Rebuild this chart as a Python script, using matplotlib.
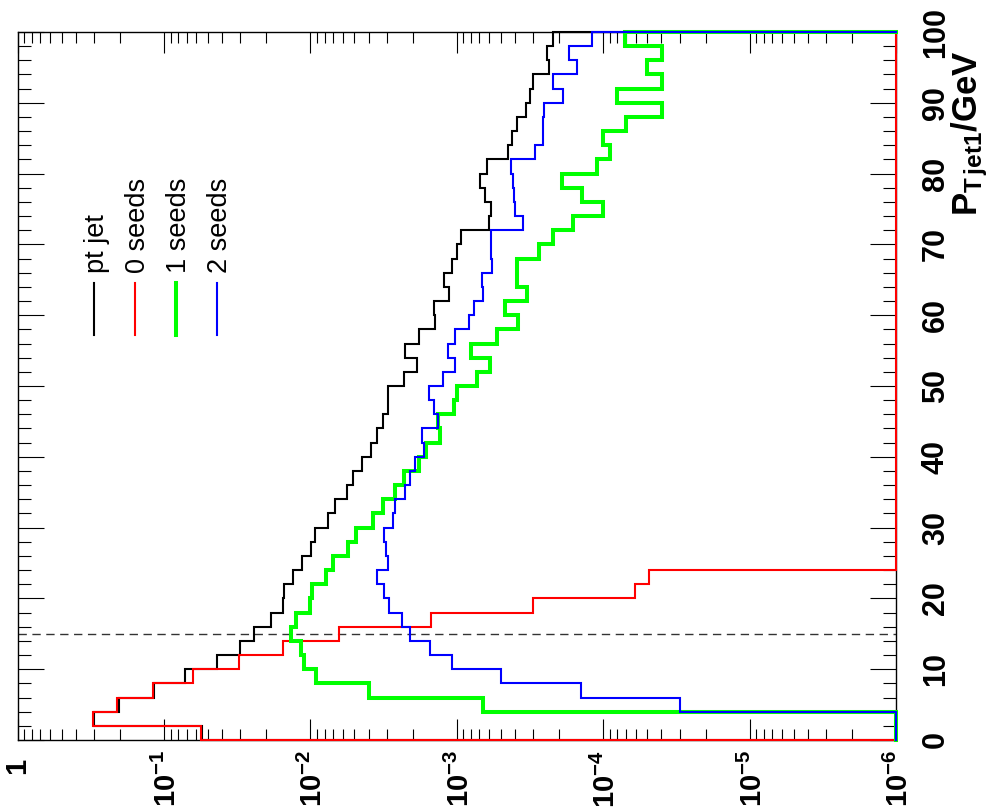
import numpy as np
import matplotlib
matplotlib.use("Agg")
import matplotlib.pyplot as plt
from matplotlib.ticker import LogLocator, MultipleLocator, NullFormatter

plt.rcParams['font.family'] = ['Liberation Sans', 'DejaVu Sans']
plt.rcParams['mathtext.fontset'] = 'custom'
plt.rcParams['mathtext.rm'] = 'Liberation Sans'
plt.rcParams['mathtext.bf'] = 'Liberation Sans:bold'
plt.rcParams['mathtext.it'] = 'Liberation Sans:italic'

# ---- data: normalised entries per 2 GeV bin of the leading-jet pT ----
bin_edges = list(range(0, 102, 2))

pt_jet = [0.0550, 0.300, 0.202, 0.117, 0.0718, 0.0436, 0.0302, 0.0243, 0.0187, 0.01535,
          0.01513, 0.01318, 0.01145, 0.00994, 0.00929, 0.00753, 0.00678, 0.00564, 0.00513, 0.00446,
          0.00387, 0.00352, 0.00320, 0.00296, 0.00296, 0.00229, 0.00187, 0.00225, 0.00180, 0.00141,
          0.00142, 0.00113, 0.00123, 0.00108, 0.00100, 0.000940, 0.000598, 0.000586, 0.000641, 0.000693,
          0.000618, 0.000444, 0.000421, 0.000385, 0.000336, 0.000315, 0.000303, 0.000233, 0.000243, 0.000221]

seeds0 = [0.0562, 0.306, 0.2075, 0.118, 0.0630, 0.0307, 0.01528, 0.00637, 0.00151, 0.000303,
          6.05e-5, 4.86e-5] + [0.0] * 38

seeds1 = [0.0, 0.0, 0.000658, 0.00397, 0.00921, 0.01109, 0.01157, 0.01361, 0.01253, 0.01005,
          0.00978, 0.00787, 0.00697, 0.00550, 0.00485, 0.00376, 0.00320, 0.00264, 0.00230, 0.00182,
          0.00161, 0.00131, 0.00134, 0.00105, 0.000991, 0.000730, 0.000593, 0.000802, 0.000533, 0.000379,
          0.000468, 0.000330, 0.000389, 0.000389, 0.000273, 0.000219, 0.000160, 9.97e-5, 0.000140, 0.000192,
          0.000111, 8.97e-5, 0.000101, 6.98e-5, 3.98e-5, 8.07e-5, 3.98e-5, 5.04e-5, 3.98e-5, 7.08e-5]

seeds2 = [0.0, 0.0, 2.98e-5, 0.000142, 0.000498, 0.00107, 0.00153, 0.00208, 0.00235, 0.00289,
          0.00314, 0.00348, 0.00294, 0.00304, 0.00315, 0.00272, 0.00266, 0.00224, 0.00208, 0.00193,
          0.00167, 0.00173, 0.00135, 0.00142, 0.00154, 0.00125, 0.00103, 0.00114, 0.00103, 0.000820,
          0.000762, 0.000658, 0.000671, 0.000577, 0.000586, 0.000586, 0.000351, 0.000400, 0.000406, 0.000414,
          0.000426, 0.000292, 0.000259, 0.000259, 0.000252, 0.000189, 0.000221, 0.000151, 0.000170, 0.000120]

legend_labels = ["pt jet", "0 seeds", "1 seeds", "2 seeds"]
pt_ticks = list(range(0, 101, 10))
decades = [0, -1, -2, -3, -4, -5, -6]
pt_cut = 15.0

YMIN, YMAX = 1e-6, 1.0

W, H = 1001, 810
fig = plt.figure(figsize=(W / 100, H / 100), dpi=100)
fig.patch.set_facecolor('white')


def fx(px):
    return px / W


def fy(py):
    return 1 - py / H


# frame (pixel box); the page is drawn rotated: pT runs upwards, entries run right-to-left
L, R, T, B = 17.5, 896.0, 32.0, 740.0
ax = fig.add_axes([fx(L), fy(B), fx(R) - fx(L), fy(T) - fy(B)])
ax.set_xscale('log')
ax.set_xlim(YMAX, YMIN)
ax.set_ylim(0, 100)


def outline(vals):
    """Histogram outline along pT, closed to the axis minimum at both ends."""
    v = np.asarray(vals, float)
    v = np.where(v > 0, v, YMIN)
    e = np.asarray(bin_edges, float)
    xs = np.concatenate([[YMIN], np.repeat(v, 2), [YMIN]])
    ys = np.repeat(e, 2)
    return xs, ys


series = [
    (pt_jet, 'black', 1.5),
    (seeds0, '#ff0000', 1.5),
    (seeds1, '#00ff00', 2.9),
    (seeds2, '#0000ff', 1.5),
]
for i, (vals, col, lw) in enumerate(series):
    xs, ys = outline(vals)
    ax.plot(xs, ys, color=col, lw=lw, solid_joinstyle='miter', clip_on=False, zorder=3 + i)

ax.axhline(pt_cut, color='#333333', lw=1.0, ls=(0, (6, 4)), zorder=2)

# frame and ticks
for s in ax.spines.values():
    s.set_linewidth(1.0)
ax.xaxis.set_major_locator(LogLocator(base=10, numticks=20))
ax.xaxis.set_minor_locator(LogLocator(base=10, subs=np.arange(2, 10), numticks=20))
ax.yaxis.set_major_locator(MultipleLocator(10))
ax.yaxis.set_minor_locator(MultipleLocator(2))
ax.xaxis.set_major_formatter(NullFormatter())
ax.xaxis.set_minor_formatter(NullFormatter())
ax.yaxis.set_major_formatter(NullFormatter())
ax.tick_params(axis='x', which='major', direction='in', length=15, width=0.8, top=True, bottom=True)
ax.tick_params(axis='x', which='minor', direction='in', length=8, width=0.8, top=True, bottom=True)
ax.tick_params(axis='y', which='major', direction='in', length=19, width=0.8, left=True, right=True)
ax.tick_params(axis='y', which='minor', direction='in', length=9.5, width=0.8, left=True, right=True)

# rotated tick labels
for p in pt_ticks:
    ypx = B - (B - T) * p / 100.0
    fig.text(fx(944), fy(ypx), str(p), rotation=90, rotation_mode='anchor',
             ha='center', va='baseline', fontsize=22, fontweight='bold')

dec_w = (R - L) / 6.0
for d in decades:
    xpx = L - d * dec_w
    if d == 0:
        fig.text(fx(xpx + 8), fy(758), '1', rotation=90, rotation_mode='anchor',
                 ha='right', va='baseline', fontsize=21, fontweight='bold')
    else:
        fig.text(fx(xpx + 12), fy(750), r'$\mathbf{10^{%d}}$' % d, rotation=90,
                 rotation_mode='anchor', ha='right', va='baseline', fontsize=21)

# axis title
fig.text(fx(977), fy(216), r'$\mathbf{P_{T\,jet1}/GeV}$', rotation=90, rotation_mode='anchor',
         ha='left', va='baseline', fontsize=25)

# legend
leg_base = [104, 145, 186, 227]
for lab, base, (vals, col, lw) in zip(legend_labels, leg_base, series):
    line_x = base - 10.5
    fig.add_artist(plt.Line2D([fx(line_x), fx(line_x)], [fy(335), fy(283)], color=col,
                              lw=lw, transform=fig.transFigure))
    fig.text(fx(base), fy(273), lab, rotation=90, rotation_mode='anchor',
             ha='left', va='baseline', fontsize=19.5)

fig.savefig('out.png', dpi=100, facecolor='white')
